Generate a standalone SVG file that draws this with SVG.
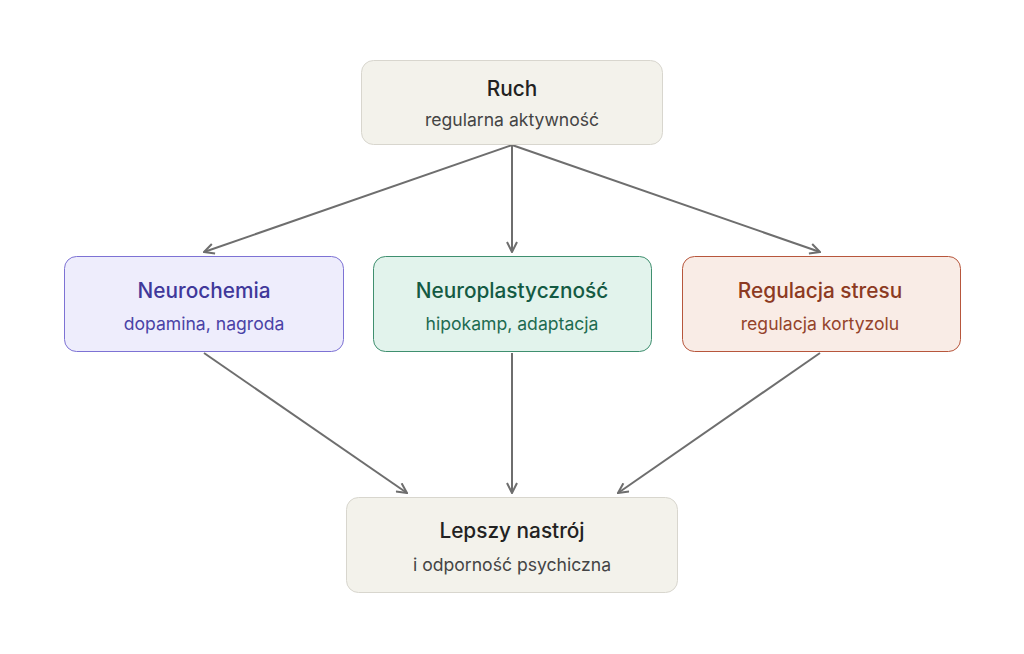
<svg xmlns="http://www.w3.org/2000/svg" width="1024" height="654" viewBox="0 0 1024 654">
<defs>
<style>
.t{font-family:Inter,"Noto Sans","Liberation Sans",sans-serif;font-size:20.8px;font-weight:500;text-anchor:middle}
.s{font-family:Inter,"Noto Sans","Liberation Sans",sans-serif;font-size:17.6px;font-weight:400;text-anchor:middle}
.c{fill:none;stroke:#6e6e6e;stroke-width:2;marker-end:url(#ah)}
</style>
<marker id="ah" viewBox="0 0 12 12" refX="11" refY="6" markerWidth="12" markerHeight="12" markerUnits="userSpaceOnUse" orient="auto">
<path d="M1,1 L11,6 L1,11" fill="none" stroke="#6e6e6e" stroke-width="2"/>
</marker>
</defs>
<rect width="1024" height="654" fill="#ffffff"/>
<g id="connectors">
<line class="c" x1="512" y1="145" x2="204" y2="252"/>
<line class="c" x1="512" y1="145" x2="512" y2="252"/>
<line class="c" x1="512" y1="145" x2="820" y2="252"/>
<line class="c" x1="204" y1="353" x2="407" y2="493"/>
<line class="c" x1="512" y1="353" x2="512" y2="493"/>
<line class="c" x1="820" y1="353" x2="618" y2="493"/>
</g>
<g id="ruch">
<rect x="361.5" y="60.5" width="301" height="84" rx="12" fill="#f3f2eb" stroke="#d8d6ce"/>
<text class="t" x="512" y="96" fill="#222">Ruch</text>
<text class="s" x="512" y="126" fill="#444">regularna aktywność</text>
</g>
<g id="neurochemia">
<rect x="64.5" y="256.5" width="279" height="95" rx="12" fill="#eeedfc" stroke="#7d72d4"/>
<text class="t" x="204" y="298" fill="#40389a">Neurochemia</text>
<text class="s" x="204" y="330" fill="#4a42a6">dopamina, nagroda</text>
</g>
<g id="neuroplastycznosc">
<rect x="373.5" y="256.5" width="278" height="95" rx="12" fill="#e2f3ec" stroke="#3f8f6f"/>
<text class="t" x="512" y="298" fill="#145a43">Neuroplastyczność</text>
<text class="s" x="512" y="330" fill="#1d6b50">hipokamp, adaptacja</text>
</g>
<g id="regulacja">
<rect x="682.5" y="256.5" width="278" height="95" rx="12" fill="#f9ece6" stroke="#b7563c"/>
<text class="t" x="820" y="298" fill="#8c3a22">Regulacja stresu</text>
<text class="s" x="820" y="330" fill="#94432b">regulacja kortyzolu</text>
</g>
<g id="lepszy">
<rect x="346.5" y="497.5" width="331" height="95" rx="12" fill="#f3f2eb" stroke="#d8d6ce"/>
<text class="t" x="512" y="538" fill="#222">Lepszy nastrój</text>
<text class="s" x="512" y="571" fill="#444">i odporność psychiczna</text>
</g>
</svg>
